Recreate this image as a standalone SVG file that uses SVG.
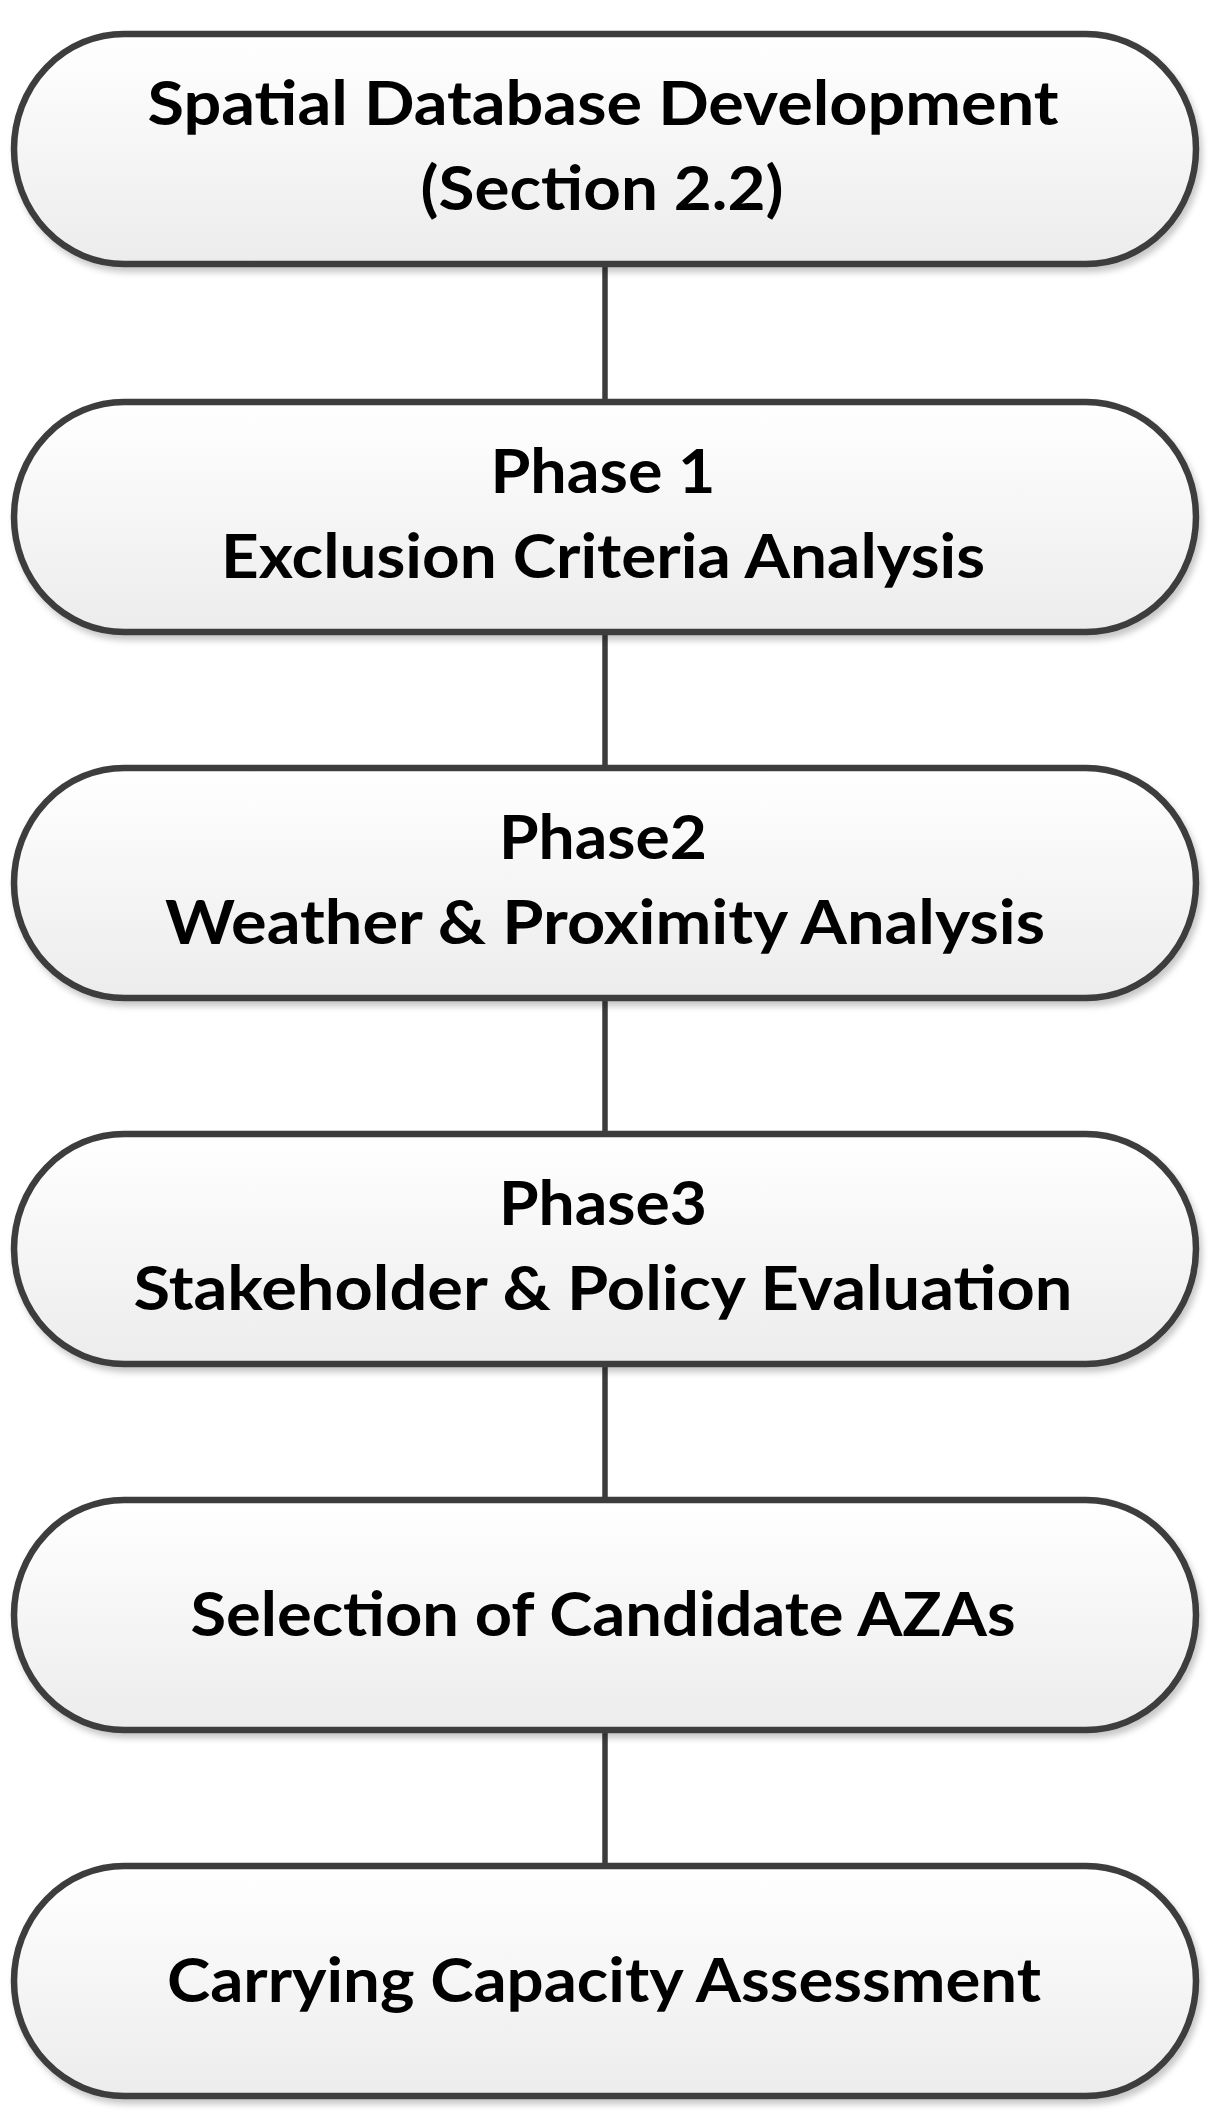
<svg xmlns="http://www.w3.org/2000/svg" width="1214" height="2125" viewBox="0 0 1214 2125">
<defs>
<linearGradient id="fillGrad" x1="0" y1="0" x2="0" y2="1">
<stop offset="0" stop-color="#ffffff"/>
<stop offset="1" stop-color="#ececec"/>
</linearGradient>
<filter id="shadow" x="-5%" y="-10%" width="110%" height="125%">
<feDropShadow dx="3" dy="5" stdDeviation="3" flood-color="#000" flood-opacity="0.22"/>
</filter>
</defs>
<style>
.node{fill:url(#fillGrad);stroke:#3c3c3c;stroke-width:6.5;filter:url(#shadow)}
.lbl{font-family:Lato,"Open Sans","Liberation Sans",sans-serif;font-weight:700;font-size:62px;fill:#000;text-anchor:middle}
.conn{stroke:#3c3c3c;stroke-width:5.5;fill:none}
</style>
<rect width="1214" height="2125" fill="#ffffff"/>
<g id="connectors">
<line class="conn" x1="605" y1="264" x2="605" y2="402"/>
<line class="conn" x1="605" y1="632" x2="605" y2="768"/>
<line class="conn" x1="605" y1="998" x2="605" y2="1134"/>
<line class="conn" x1="605" y1="1364" x2="605" y2="1500"/>
<line class="conn" x1="605" y1="1730" x2="605" y2="1866"/>
</g>
<g id="node1">
<rect class="node" x="14" y="34" width="1182" height="230" rx="110" ry="115"/>
<text class="lbl" x="603" y="125" textLength="911" lengthAdjust="spacingAndGlyphs">Spatial Database Development</text>
<text class="lbl" x="602" y="210" textLength="363" lengthAdjust="spacingAndGlyphs">(Section 2.2)</text>
</g>
<g id="node2">
<rect class="node" x="14" y="402" width="1182" height="230" rx="110" ry="115"/>
<text class="lbl" x="603" y="493" textLength="225" lengthAdjust="spacingAndGlyphs">Phase 1</text>
<text class="lbl" x="603" y="578" textLength="764" lengthAdjust="spacingAndGlyphs">Exclusion Criteria Analysis</text>
</g>
<g id="node3">
<rect class="node" x="14" y="768" width="1182" height="230" rx="110" ry="115"/>
<text class="lbl" x="603" y="859" textLength="208" lengthAdjust="spacingAndGlyphs">Phase2</text>
<text class="lbl" x="605" y="944" textLength="880" lengthAdjust="spacingAndGlyphs">Weather &amp; Proximity Analysis</text>
</g>
<g id="node4">
<rect class="node" x="14" y="1134" width="1182" height="230" rx="110" ry="115"/>
<text class="lbl" x="603" y="1225" textLength="208" lengthAdjust="spacingAndGlyphs">Phase3</text>
<text class="lbl" x="603" y="1310" textLength="939" lengthAdjust="spacingAndGlyphs">Stakeholder &amp; Policy Evaluation</text>
</g>
<g id="node5">
<rect class="node" x="14" y="1500" width="1182" height="230" rx="110" ry="115"/>
<text class="lbl" x="603" y="1636" textLength="825" lengthAdjust="spacingAndGlyphs">Selection of Candidate AZAs</text>
</g>
<g id="node6">
<rect class="node" x="14" y="1866" width="1182" height="230" rx="110" ry="115"/>
<text class="lbl" x="604" y="2002" textLength="874" lengthAdjust="spacingAndGlyphs">Carrying Capacity Assessment</text>
</g>
</svg>
